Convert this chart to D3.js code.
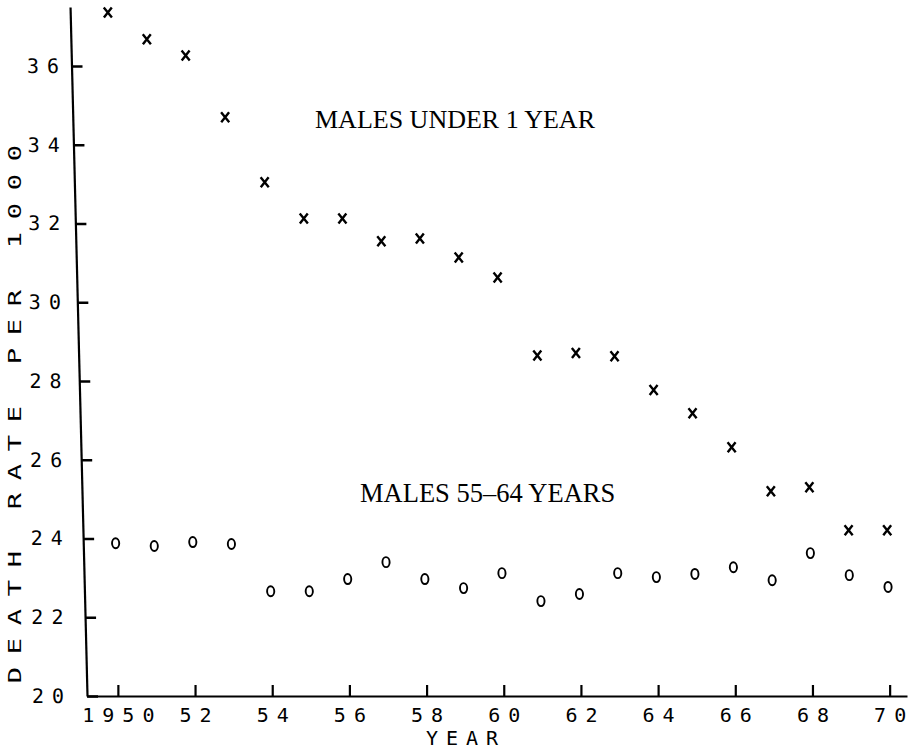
<!DOCTYPE html>
<html><head><meta charset="utf-8">
<script src="https://cdn.jsdelivr.net/npm/d3@7"></script>
<style>body{margin:0;background:#fff} svg{display:block}</style>
</head><body>
<svg id="c" width="917" height="750"></svg>
<script>
const years = [1950,1951,1952,1953,1954,1955,1956,1957,1958,1959,1960,1961,1962,1963,1964,1965,1966,1967,1968,1969,1970];
const under1 = [37.36,36.68,36.27,34.70,33.05,32.13,32.13,31.55,31.62,31.14,30.63,28.65,28.71,28.63,27.77,27.18,26.32,25.20,25.30,24.21,24.21];
const males5564 = [23.88,23.81,23.91,23.86,22.66,22.66,22.97,23.40,22.97,22.74,23.12,22.41,22.59,23.12,23.02,23.10,23.27,22.94,23.63,23.07,22.77];
const xTicks = [1950,1952,1954,1956,1958,1960,1962,1964,1966,1968,1970];
const xTickLabels = ["1950","52","54","56","58","60","62","64","66","68","70"];
const yTicks = [20,22,24,26,28,30,32,34,36];
const yTickLabels = ["20","22","24","26","28","30","32","34","36"];
const seriesLabels = ["MALES UNDER 1 YEAR","MALES 55–64 YEARS"];
const xTitle = "YEAR";
const yTitle = "DEATH RATE PER 1000";

const svg = d3.select("#c");
const x = d3.scaleLinear().domain([1949.2, 1970.45]).range([87, 907]);
const y = d3.scaleLinear().domain([20, 37.5]).range([696, 7]);
const baseY = y(20);
const mono = "'DejaVu Sans Mono', 'Liberation Mono', monospace";
const LS = 8;

// X axis
const xa = svg.append("g").attr("transform", `translate(0,${baseY})`)
  .call(d3.axisBottom(x).tickValues(xTicks)
    .tickFormat((d,i) => xTickLabels[i])
    .tickSizeInner(-11).tickSizeOuter(0).tickPadding(12));
xa.select(".domain").attr("stroke-width", 2.2);
xa.selectAll(".tick line").attr("stroke", "#000").attr("stroke-width", 2.2);
xa.selectAll("text").attr("font-family", mono).attr("font-size", 20)
  .attr("letter-spacing", LS).attr("dx", LS/2).attr("fill", "#000");

// Y axis lines (slanted like the original)
const yLocal = y.copy().range([0, y(37.5) - baseY]);
const ya = svg.append("g").attr("transform", `translate(${x.range()[0]},${baseY}) skewX(1.41)`)
  .call(d3.axisLeft(yLocal).tickValues(yTicks)
    .tickFormat(() => "").tickSizeInner(-11).tickSizeOuter(0));
ya.select(".domain").attr("stroke-width", 2.2);
ya.selectAll(".tick line").attr("stroke", "#000").attr("stroke-width", 2.4);

// Y tick labels
const yl = svg.append("g").attr("transform", `translate(72,${baseY}) skewX(0.45)`)
  .call(d3.axisLeft(yLocal).tickValues(yTicks)
    .tickFormat((d,i) => yTickLabels[i]).tickSize(0).tickPadding(0));
yl.select(".domain").remove();
yl.selectAll("text").attr("font-family", mono).attr("font-size", 20)
  .attr("letter-spacing", LS).attr("fill", "#000");

// Axis titles
svg.append("text").attr("x", 462 + LS/2).attr("y", 745)
  .attr("text-anchor", "middle").attr("font-family", mono).attr("font-size", 20)
  .attr("letter-spacing", LS).text(xTitle);
const ySx = 1.6, ySp = 29 / ySx - 17 * 0.602;
svg.append("text").attr("transform", `translate(21,414) rotate(-90) scale(${ySx},1)`)
  .attr("text-anchor", "middle").attr("dx", ySp/2)
  .attr("font-family", mono).attr("font-size", 17)
  .attr("letter-spacing", ySp).text(yTitle);

// Markers
const marks = svg.append("g")
  .attr("transform", `translate(0,${baseY}) skewX(0.84) translate(0,${-baseY})`);
const crossPath = "M-4,-5L4,5M4,-5L-4,5";
marks.selectAll("path.cross").data(years.map((yr,i) => ({yr, v: under1[i]})))
  .join("path").attr("class", "cross")
  .attr("transform", d => `translate(${x(d.yr)},${y(d.v)})`)
  .attr("d", crossPath).attr("stroke", "#000").attr("stroke-width", 2.4)
  .attr("fill", "none");
marks.selectAll("ellipse.circ").data(years.map((yr,i) => ({yr, v: males5564[i]})))
  .join("ellipse").attr("class", "circ")
  .attr("cx", d => x(d.yr)).attr("cy", d => y(d.v))
  .attr("rx", 3.6).attr("ry", 5).attr("stroke", "#000").attr("stroke-width", 1.9)
  .attr("fill", "none");

// Series labels
const serif = "'Liberation Serif', 'Times New Roman', serif";
svg.append("text").attr("x", 315).attr("y", 128).attr("font-family", serif)
  .attr("font-size", 26).text(seriesLabels[0]);
svg.append("text").attr("x", 360).attr("y", 502).attr("font-family", serif)
  .attr("font-size", 26.5).text(seriesLabels[1]);
</script>
</body></html>
